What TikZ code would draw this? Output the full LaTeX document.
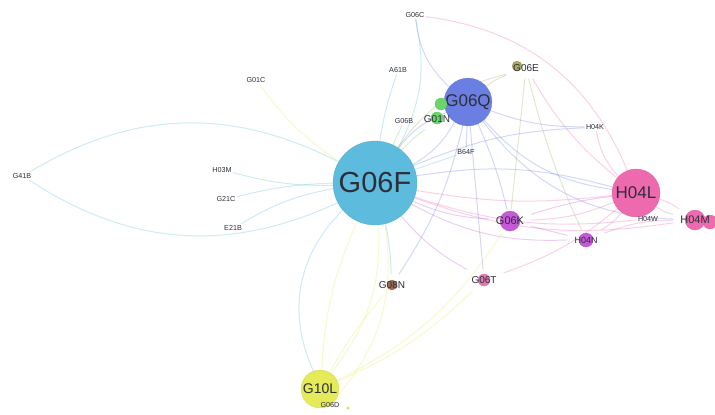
\documentclass[tikz,border=0pt]{standalone}
\usepackage{fontspec}
\setmainfont{Liberation Sans}
\usetikzlibrary{backgrounds}
\definecolor{fcol}{HTML}{5DBBDD}
\definecolor{qcol}{HTML}{6B7FE3}
\definecolor{lcol}{HTML}{EE6AAE}
\definecolor{ycol}{HTML}{E4EA58}
\definecolor{kcol}{HTML}{C45AD6}
\definecolor{ecol}{HTML}{A8A860}
\definecolor{ncol}{HTML}{6AD66A}
\definecolor{bcol}{HTML}{9B6A50}
\definecolor{tcol}{HTML}{E07AB0}
\definecolor{txt}{HTML}{2E2E3A}
\newcommand{\fs}[1]{\fontsize{#1}{#1}\selectfont}
\tikzset{net/.style={x=.5pt,y=-.5pt,font=\fs{3.6},text=txt},
  bub/.style={circle,inner sep=0pt,fill=#1,draw=#1!92!black,line width=.15pt},
  tag/.style={inner sep=.5pt},
  edge/.style={line width=.5pt,opacity=.3}}

\begin{document}
\begin{tikzpicture}[net]
  \useasboundingbox (0,0) rectangle (715,414);
  % hubs
  \node[bub=fcol,minimum size=42pt,font=\fs{14.5}] (g06f) at (375,183) {G06F};
  \node[bub=qcol,minimum size=21pt,font=\fs{8.5}] (g06q) at (468,102) {G06Q};
  \node[bub=lcol,minimum size=24pt,font=\fs{8.5}] (h04l) at (636,193) {H04L};
  \node[bub=ycol,minimum size=19pt,font=\fs{7}] (g10l) at (320,389) {G10L};
  % middle nodes
  \node[bub=kcol,minimum size=10pt] (k) at (510,221) {};
  \node[font=\fs{5.5}] (g06k) at (510,221) {G06K};
  \node[bub=kcol,minimum size=7pt] (n) at (586,240) {};
  \node[font=\fs{4.5}] (h04n) at (586,240) {H04N};
  \node[bub=lcol,minimum size=7pt] (m2) at (710,222) {};
  \node[bub=lcol,minimum size=10pt] (m) at (695,220) {};
  \node[font=\fs{5.5}] (h04m) at (695,220) {H04M};
  \node[bub=ecol,minimum size=5pt] (e) at (517,66) {};
  \node[font=\fs{5}] (g06e) at (526,68) {G06E};
  \node[bub=ncol,minimum size=6pt] (n1) at (441,104) {};
  \node[bub=ncol,minimum size=6pt] (n2) at (437,118) {};
  \node[font=\fs{5}] (g01n) at (437,119) {G01N};
  \node[bub=bcol,minimum size=5pt] (b) at (392,285) {};
  \node[font=\fs{5}] (g08n) at (392,285) {G08N};
  \node[bub=tcol,minimum size=6pt] (t) at (484,280) {};
  \node[font=\fs{5}] (g06t) at (484,280) {G06T};
  \node[bub=ycol,minimum size=1.5pt] (d) at (348,408) {};
  % small tags
  \foreach \n/\x/\y/\l in {g06c/415/15/G06C,a61b/398/70/A61B,g01c/256/80/G01C,
    g06b/404/121/G06B,h04k/595/127/H04K,b64f/466/152/B64F,g41b/22/176/G41B,
    h03m/222/170/H03M,g21c/226/199/G21C,e21b/233/228/E21B,h04w/648/219/H04W,
    g06d/330/405/G06D}
    \node[tag] (\n) at (\x,\y) {\l};
  % links
  \begin{pgfonlayer}{background}
  \foreach \s/\t/\c/\b in {g06f/g41b/fcol/-29,g06f/g41b/fcol/29,g06f/h03m/fcol/8,
    g06f/g21c/fcol/-6,g06f/e21b/fcol/-10,g06f/g01c/ycol/10,g06f/a61b/fcol/5,
    g06f/g06c/fcol/-20,g06f/g06b/ncol/0,g06f/g01n/ncol/5,g06f/g06q/qcol/15,
    g06f/g06q/qcol/-15,g06f/g06e/ecol/20,g06f/h04k/qcol/10,g06f/b64f/fcol/0,
    g06f/h04l/qcol/12,g06f/h04l/lcol/-8,g06f/g06k/kcol/-10,g06f/h04n/kcol/-15,
    g06f/h04w/lcol/-12,g06f/h04m/lcol/-14,g06f/g08n/fcol/5,g06f/g06t/kcol/-10,
    g06f/g10l/ycol/20,g06f/g10l/ycol/-10,g06f/g10l/fcol/-35,g06f/g06d/ycol/25,
    g06q/g06c/qcol/20,g06q/g06e/ecol/10,g06q/h04k/qcol/-10,g06q/h04l/qcol/-20,
    g06q/g06k/qcol/5,g06q/g06t/qcol/0,g06q/b64f/qcol/0,g06q/g08n/qcol/10,
    g06q/h04m/qcol/-25,g06c/h04l/lcol/30,g06e/h04l/lcol/-10,g06e/g06k/ecol/0,
    g06e/h04n/ecol/-5,h04l/h04m/lcol/10,h04l/h04m/lcol/-10,h04l/h04w/lcol/0,
    h04l/h04n/lcol/10,h04l/g06k/lcol/10,h04l/g06k/kcol/-5,h04l/g06t/lcol/10,
    h04l/h04k/lcol/15,h04n/h04m/lcol/10,g06k/h04n/kcol/0,g10l/g08n/ycol/5,
    g10l/g06t/ycol/-10,g10l/g06k/ycol/-15}
    \draw[edge,draw=\c] (\s) to[bend left=\b] (\t);
  \end{pgfonlayer}
\end{tikzpicture}
\end{document}
